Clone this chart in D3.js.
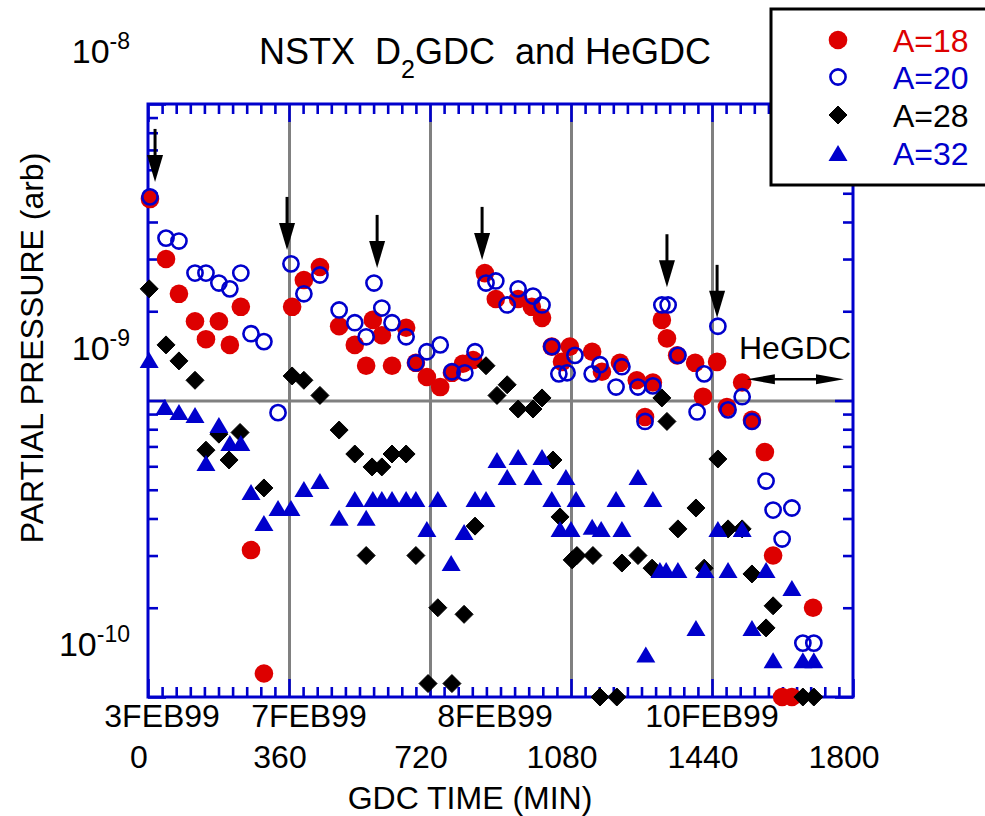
<!DOCTYPE html>
<html>
<head>
<meta charset="utf-8">
<script src="https://cdn.jsdelivr.net/npm/d3@7"></script>
<style>
  body { margin: 0; background: #fff; }
  svg text { font-family: "Liberation Sans", Arial, Helvetica, sans-serif; fill: #000; }
</style>
</head>
<body>
<svg id="chart" width="985" height="816"></svg>
<script>
// pressures are in units of 1e-9 (arb)
const unit = 1e-9;

// A=18
const t18 = [5,46,79,120,148,181,209,237,263,296,368,398,439,488,528,557,574,597,623,659,684,712,746,776,804,830,860,888,945,980,1006,1031,1057,1077,1134,1159,1205,1248,1269,1289,1312,1325,1351,1397,1417,1453,1478,1517,1542,1575,1596,1619,1644,1698];
const p18 = [4.78,3.0,2.29,1.85,1.61,1.85,1.54,2.07,0.313,0.120,2.07,2.55,2.82,1.78,1.54,1.31,1.87,1.66,1.31,1.76,1.34,1.2,1.11,1.24,1.33,1.37,2.69,2.2,2.2,2.07,1.9,1.52,1.35,1.52,1.46,1.25,1.34,1.17,0.88,1.15,1.87,1.62,1.42,1.34,1.03,1.35,0.95,1.15,0.86,0.67,0.30,0.10,0.10,0.20];

// A=20
const t20 = [5,46,79,120,148,181,209,237,263,296,332,365,398,439,488,528,557,577,597,623,659,684,712,746,776,809,835,863,888,917,945,983,1006,1031,1049,1070,1090,1134,1154,1195,1210,1251,1269,1289,1312,1328,1353,1402,1420,1455,1481,1517,1542,1578,1596,1619,1644,1672,1700];
const p20 = [4.86,3.53,3.45,2.69,2.69,2.49,2.38,2.69,1.68,1.58,0.91,2.89,2.29,2.65,2.02,1.83,1.64,2.49,2.05,1.83,1.64,1.34,1.46,1.54,1.25,1.24,1.46,2.49,2.53,2.1,2.38,2.25,2.1,1.52,1.23,1.24,1.42,1.23,1.32,1.11,1.3,1.11,0.85,1.12,2.1,2.1,1.42,0.915,1.23,1.78,0.93,1.03,0.85,0.535,0.427,0.341,0.434,0.152,0.152];

// A=28
const t28 = [3,46,79,120,148,181,207,235,296,368,398,439,488,528,557,572,597,623,659,684,715,740,776,807,835,863,891,917,945,983,1006,1034,1052,1083,1095,1136,1154,1197,1210,1251,1287,1312,1325,1353,1399,1420,1455,1481,1517,1542,1578,1596,1672,1700];
const p28 = [2.38,1.54,1.36,1.17,0.68,0.77,0.63,0.78,0.507,1.21,1.17,1.04,0.795,0.66,0.30,0.597,0.597,0.66,0.66,0.30,0.111,0.20,0.111,0.19,0.377,1.31,1.04,1.13,0.936,0.936,1.02,0.63,0.405,0.29,0.30,0.30,0.10,0.10,0.283,0.30,0.272,1.02,0.85,0.369,0.434,0.272,0.635,0.369,0.369,0.26,0.171,0.203,0.10,0.10];

// A=32
const t32 = [3,43,79,120,148,181,209,237,263,296,332,365,398,439,488,528,557,574,597,623,659,684,712,740,774,807,835,863,891,917,945,983,1006,1031,1052,1067,1080,1093,1134,1157,1195,1210,1251,1271,1289,1307,1323,1353,1399,1422,1455,1481,1517,1542,1578,1596,1644,1672,1700];
const p32 = [1.37,0.95,0.915,0.894,0.615,0.827,0.719,0.719,0.491,0.386,0.434,0.434,0.503,0.535,0.402,0.465,0.402,0.465,0.465,0.465,0.465,0.465,0.369,0.465,0.283,0.36,0.465,0.465,0.63,0.552,0.645,0.552,0.645,0.465,0.369,0.552,0.369,0.465,0.375,0.369,0.465,0.369,0.552,0.139,0.465,0.268,0.268,0.268,0.171,0.268,0.369,0.268,0.369,0.171,0.268,0.133,0.233,0.133,0.133];

// axis ticks / labels
const xMajor = [0, 360, 720, 1080, 1440, 1800];
const xGrid = [360, 720, 1080, 1440];
const yMajor = [1e-10, 1e-9, 1e-8];
const yExp = ['-10', '-9', '-8'];
const dateLabels = ['3FEB99', '7FEB99', '8FEB99', '10FEB99'];
const dateTimes = [36, 411, 886, 1440];

// discharge start arrows (time, tip pressure in 1e-9)
const arrowTimes = [18, 355, 585, 853, 1325, 1453];
const arrowTips = [5.46, 3.22, 2.8, 2.98, 2.41, 1.9];
// HeGDC span
const heStart = 1529, heEnd = 1777, heLevel = 1.18;

const seriesNames = ['A=18', 'A=20', 'A=28', 'A=32'];

const red = '#dd0000', blue = '#0000cc', grey = '#808080';

const dims = { left: 148, right: 853, top: 104, bottom: 697 };

const x = d3.scaleLinear().domain([0, 1800]).range([dims.left, dims.right]);
const y = d3.scaleLog().domain([1e-10, 1e-8]).range([dims.bottom, dims.top]);

const svg = d3.select('#chart');

const pack = (ts, ps) => ts.map((t, i) => ({ t, p: ps[i] * unit }));

/* marker shapes */
const triPath = (w, h) => `M0,${-h / 2}L${w / 2},${h / 2}L${-w / 2},${h / 2}Z`;
const diaPath = s => `M0,${-s / 2}L${s / 2},0L0,${s / 2}L${-s / 2},0Z`;

const styles = [
    { draw: g => g.append('circle').attr('r', 9.3).attr('fill', red), color: red },
    { draw: g => g.append('circle').attr('r', 7.6).attr('fill', 'none').attr('stroke', blue).attr('stroke-width', 2.6), color: blue },
    { draw: g => g.append('path').attr('d', diaPath(18)).attr('fill', '#000').attr('stroke', '#000').attr('stroke-width', 1).attr('stroke-linejoin', 'round'), color: '#000' },
    { draw: g => g.append('path').attr('d', triPath(19, 16)).attr('fill', blue), color: blue },
];

/* gridlines */
const gGrid = svg.append('g');
gGrid.append('g')
    .attr('transform', `translate(0,${dims.bottom})`)
    .call(d3.axisBottom(x).tickValues(xGrid).tickSize(-(dims.bottom - dims.top)).tickFormat(''));
gGrid.append('g')
    .attr('transform', `translate(${dims.left},0)`)
    .call(d3.axisLeft(y).tickValues([1e-9]).tickSize(-(dims.right - dims.left)).tickFormat(''));
gGrid.selectAll('.domain').remove();
gGrid.selectAll('.tick line').attr('stroke', grey).attr('stroke-width', 3);

/* axes, ticks pointing inward on all four sides */
const xMinor = d3.range(0, 1801, 36).filter(v => v % 360 !== 0);
const yMinor = [];
[1e-10, 1e-9].forEach(b => { for (let k = 2; k <= 9; k++) yMinor.push(k * b); });

const axes = svg.append('g');
const addAxis = (gen, tr) => axes.append('g').attr('transform', tr).call(gen.tickSizeOuter(0).tickFormat(''));
addAxis(d3.axisBottom(x).tickValues(xMinor).tickSize(-10), `translate(0,${dims.bottom})`);
addAxis(d3.axisBottom(x).tickValues(xMajor).tickSize(-18), `translate(0,${dims.bottom})`);
addAxis(d3.axisTop(x).tickValues(xMinor).tickSize(-10), `translate(0,${dims.top})`);
addAxis(d3.axisTop(x).tickValues(xMajor).tickSize(-18), `translate(0,${dims.top})`);
addAxis(d3.axisLeft(y).tickValues(yMinor).tickSize(-10), `translate(${dims.left},0)`);
addAxis(d3.axisLeft(y).tickValues(yMajor).tickSize(-18), `translate(${dims.left},0)`);
addAxis(d3.axisRight(y).tickValues(yMinor).tickSize(-10), `translate(${dims.right},0)`);
addAxis(d3.axisRight(y).tickValues(yMajor).tickSize(-18), `translate(${dims.right},0)`);
axes.selectAll('.domain').remove();
axes.selectAll('.tick line').attr('stroke', blue).attr('stroke-width', 2.6);
axes.append('rect')
    .attr('x', dims.left).attr('y', dims.top)
    .attr('width', dims.right - dims.left).attr('height', dims.bottom - dims.top)
    .attr('fill', 'none').attr('stroke', blue).attr('stroke-width', 3);

/* x tick labels */
svg.append('g').selectAll('text').data(xMajor).join('text')
    .attr('x', d => x(d) - 9).attr('y', 768)
    .attr('text-anchor', 'middle').attr('font-size', 32)
    .text(d => d);

svg.append('g').selectAll('text').data(dateLabels).join('text')
    .attr('x', (d, i) => x(dateTimes[i])).attr('y', 727)
    .attr('text-anchor', 'middle').attr('font-size', 32)
    .text(d => d);

/* y tick labels (10^n), drawn above their ticks as in the original */
const yl = svg.append('g').selectAll('text').data(yMajor).join('text')
    .attr('x', 130).attr('y', d => y(d) - 41)
    .attr('text-anchor', 'end').attr('font-size', 34);
yl.append('tspan').text('10');
yl.append('tspan').attr('dy', -14).attr('font-size', 23).text((d, i) => yExp[i]);

/* axis titles */
svg.append('text')
    .attr('x', 470).attr('y', 809)
    .attr('text-anchor', 'middle').attr('font-size', 32)
    .text('GDC TIME (MIN)');

svg.append('text')
    .attr('transform', 'translate(43,348) rotate(-90)')
    .attr('text-anchor', 'middle').attr('font-size', 32)
    .text('PARTIAL PRESSURE (arb)');

const title = svg.append('text')
    .attr('x', 485).attr('y', 64)
    .attr('text-anchor', 'middle').attr('font-size', 36)
    .attr('xml:space', 'preserve').style('white-space', 'pre');
title.append('tspan').text('NSTX  D');
title.append('tspan').attr('dy', 14).attr('font-size', 25).text('2');
title.append('tspan').attr('dy', -14).text('GDC  and HeGDC');

/* data points */
const allSeries = [pack(t18, p18), pack(t20, p20), pack(t28, p28), pack(t32, p32)];
allSeries.forEach((data, si) => {
    const g = svg.append('g').attr('class', 'series-' + si);
    data.forEach(d => {
        const m = g.append('g').attr('transform', `translate(${x(d.t)},${y(d.p)})`);
        styles[si].draw(m);
    });
});

/* arrows */
const arrows = svg.append('g');
arrowTimes.forEach((t, i) => {
    const ax = x(t), ay = y(arrowTips[i] * unit);
    arrows.append('line')
        .attr('x1', ax).attr('x2', ax).attr('y1', ay - 53).attr('y2', ay - 20)
        .attr('stroke', '#000').attr('stroke-width', 3);
    arrows.append('path')
        .attr('d', `M${ax},${ay}L${ax - 8},${ay - 27}L${ax + 8},${ay - 27}Z`)
        .attr('fill', '#000');
});

/* HeGDC annotation */
const hy = y(heLevel * unit), hx1 = x(heStart), hx2 = x(heEnd);
svg.append('text').attr('x', 739).attr('y', 359).attr('font-size', 32).text('HeGDC');
arrows.append('line')
    .attr('x1', hx1 + 10).attr('x2', hx2 - 10).attr('y1', hy).attr('y2', hy)
    .attr('stroke', '#000').attr('stroke-width', 2.5);
arrows.append('path').attr('d', `M${hx1},${hy}L${hx1 + 28},${hy - 5}L${hx1 + 28},${hy + 5}Z`).attr('fill', '#000');
arrows.append('path').attr('d', `M${hx2},${hy}L${hx2 - 28},${hy - 5}L${hx2 - 28},${hy + 5}Z`).attr('fill', '#000');

/* legend */
const legend = svg.append('g');
legend.append('rect')
    .attr('x', 771).attr('y', 9).attr('width', 240).attr('height', 176)
    .attr('fill', '#fff').attr('stroke', '#000').attr('stroke-width', 3);
const rows = [40, 77, 115, 153];
styles.forEach((s, i) => {
    const m = legend.append('g').attr('transform', `translate(838,${rows[i]})`);
    s.draw(m);
    legend.append('text')
        .attr('x', 893).attr('y', rows[i] + 12)
        .attr('font-size', 32)
        .style('fill', s.color)
        .text(seriesNames[i]);
});
</script>
</body>
</html>
